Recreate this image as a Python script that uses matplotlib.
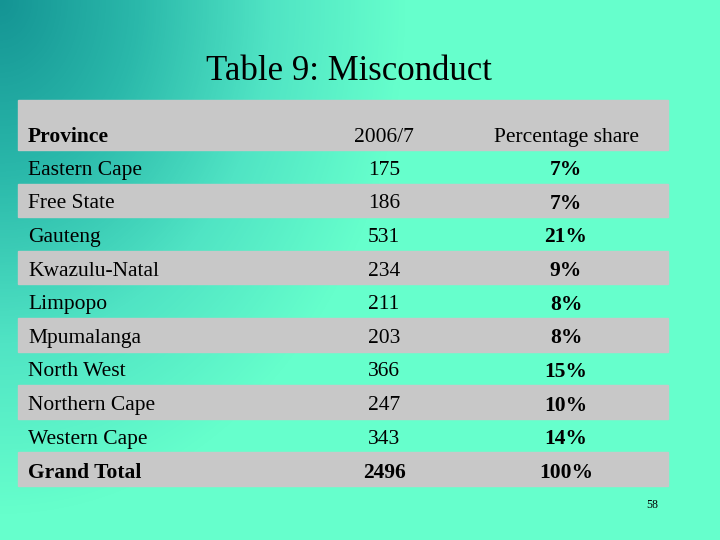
import numpy as np
import matplotlib
matplotlib.use("Agg")
import matplotlib.pyplot as plt
from matplotlib.colors import LinearSegmentedColormap

provinces = ["Eastern Cape", "Free State", "Gauteng", "Kwazulu-Natal", "Limpopo",
             "Mpumalanga", "North West", "Northern Cape", "Western Cape", "Grand Total"]
counts = ["175", "186", "531", "234", "211", "203", "366", "247", "343", "2496"]
shares = ["7%", "7%", "21%", "9%", "8%", "8%", "15%", "10%", "14%", "100%"]
headers = ["Province", "2006/7", "Percentage share"]

fig = plt.figure(figsize=(7.2, 5.4), dpi=100)
ax = fig.add_axes([0, 0, 1, 1])
ax.set_xlim(0, 720); ax.set_ylim(540, 0); ax.axis("off")

# background gradient
yy, xx = np.mgrid[0:540, 0:720]
d = np.sqrt((xx / 720.0) ** 2 * 1.0 + (yy / 540.0) ** 2 * 0.35)
d = np.clip(d / 0.75, 0, 1)
cmap = LinearSegmentedColormap.from_list("bg", ["#149494", "#2ab8aa", "#50e4c4", "#66ffcc", "#66ffcc"])
ax.imshow(d, cmap=cmap, extent=(0, 720, 540, 0), aspect="auto", zorder=0)

ax.text(349, 68, "Table 9: Misconduct", ha="center", va="center_baseline",
        fontsize=25, family="Liberation Serif", zorder=3)

fs = 15.5
grey = "#c8c8c8"
x0, x1 = 18, 668
ax.add_patch(plt.Rectangle((x0, 100), x1 - x0, 50, color=grey, zorder=1))
row_top = 150
row_h = 33.6
for i in range(len(provinces)):
    top = row_top + i * row_h
    if i % 2 == 1:
        ax.add_patch(plt.Rectangle((x0, top), x1 - x0, row_h, color=grey, zorder=1))

kw = dict(fontsize=fs, family="Liberation Serif", zorder=3, va="center_baseline")
ax.text(28, 135, headers[0], ha="left", weight="bold", **kw)
ax.text(384, 135, headers[1], ha="center", **kw)
ax.text(566, 135, headers[2], ha="center", **kw)

for i, (p, c, s) in enumerate(zip(provinces, counts, shares)):
    y = row_top + i * row_h + row_h / 2 + 1
    last = i == len(provinces) - 1
    ax.text(28, y, p, ha="left", weight="bold" if last else "normal", **kw)
    ax.text(384, y, c, ha="center", weight="bold" if last else "normal", **kw)
    ax.text(566, y, s, ha="center", weight="bold", **kw)

ax.text(652, 505, "58", ha="center", va="center", fontsize=8.5, family="Liberation Serif", zorder=3)

fig.savefig("out.png", dpi=100)
